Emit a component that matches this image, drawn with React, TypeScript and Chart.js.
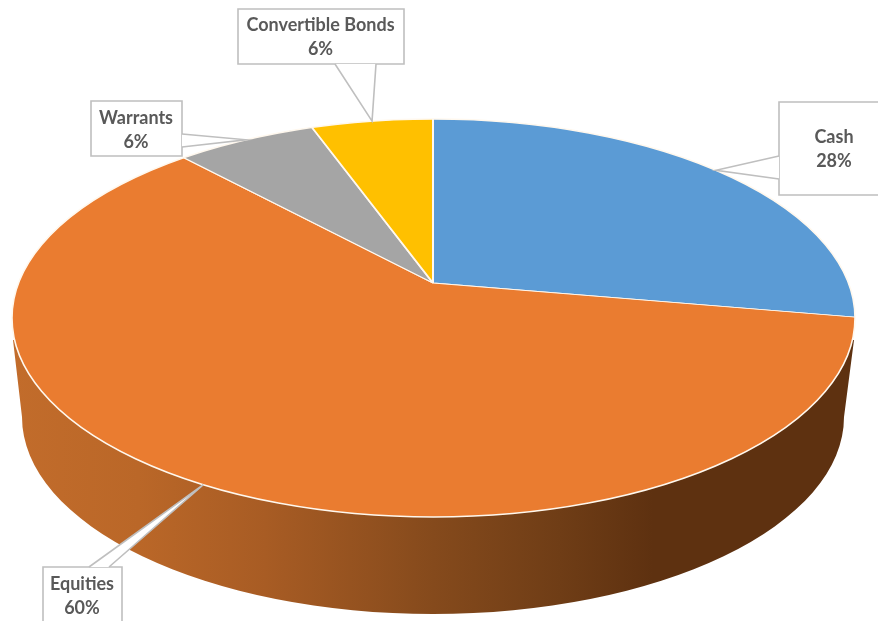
import React, { useEffect, useRef } from "react";
import { Chart, registerables } from "chart.js";

Chart.register(...registerables);

const categories = ["Cash", "Equities", "Warrants", "Convertible Bonds"];
const shares = [27.7, 60.3, 6.4, 5.6];
const sliceColors = ["#5B9BD5", "#EA7C30", "#A5A5A5", "#FFC000"];

// Projected disc geometry (the pie is seen in perspective)
const TOP = { cx: 433.5, cy: 318, rx: 421.5, ry: 199 };
const BASE = { cx: 433, cy: 417, rx: 411, ry: 197 };
const SQUASH = TOP.ry / TOP.rx;
const SIDE_STOPS: [number, string][] = [
  [0, "#C26C2B"],
  [0.15, "#BA6728"],
  [0.3, "#A85C24"],
  [0.5, "#854A1C"],
  [0.65, "#6F3D16"],
  [0.76, "#5E3110"],
  [1, "#5E3110"],
];

// Callout boxes, one per category
const BOXES = [
  { l: 779, t: 102, r: 900, b: 195, tx: 834, ty: 137, a: [779, 156], c: [779, 179] },
  { l: 43, t: 567, r: 122, b: 640, tx: 82, ty: 584, a: [89, 567], c: [109, 567] },
  { l: 91, t: 101, r: 182, b: 156, tx: 136, ty: 118, a: [182, 134], c: [182, 147] },
  { l: 238, t: 9, r: 404, b: 64, tx: 320.5, ty: 25, a: [335, 64], c: [376, 64] },
];

function rimPoint(x0: number, y0: number, dx: number, dy: number) {
  const px = (x0 - TOP.cx) / TOP.rx;
  const py = (y0 - TOP.cy) / TOP.ry;
  const qx = dx / TOP.rx;
  const qy = dy / TOP.ry;
  const A = qx * qx + qy * qy;
  const B = 2 * (px * qx + py * qy);
  const C = px * px + py * py - 1;
  const t = (-B + Math.sqrt(B * B - 4 * A * C)) / (2 * A);
  return [x0 + dx * t, y0 + dy * t];
}

const pie3d = {
  id: "pie3d",
  beforeDatasetsDraw(chart: any) {
    const { ctx } = chart;
    const arc = chart.getDatasetMeta(0).data[0];
    // side wall
    ctx.save();
    const g = ctx.createLinearGradient(TOP.cx - TOP.rx, 0, TOP.cx + TOP.rx, 0);
    SIDE_STOPS.forEach(([o, c]) => g.addColorStop(o, c));
    ctx.fillStyle = g;
    ctx.beginPath();
    ctx.moveTo(TOP.cx - TOP.rx + 1, 340);
    ctx.lineTo(BASE.cx - BASE.rx, BASE.cy);
    ctx.ellipse(BASE.cx, BASE.cy, BASE.rx, BASE.ry, 0, Math.PI, 0, true);
    ctx.lineTo(TOP.cx + TOP.rx - 1, 340);
    ctx.closePath();
    ctx.fill();
    ctx.restore();
    // top face: the slices, squashed and cut to the rim
    ctx.save();
    ctx.beginPath();
    ctx.ellipse(TOP.cx, TOP.cy, TOP.rx, TOP.ry, 0, 0, Math.PI * 2);
    ctx.clip();
    ctx.translate(arc.x, arc.y);
    ctx.scale(1, SQUASH);
    ctx.translate(-arc.x, -arc.y);
  },
  afterDatasetsDraw(chart: any) {
    const { ctx } = chart;
    ctx.restore();
    ctx.save();
    ctx.strokeStyle = "#FFF8EE";
    ctx.lineWidth = 1.6;
    ctx.beginPath();
    ctx.ellipse(TOP.cx, TOP.cy, TOP.rx, TOP.ry, 0, 0, Math.PI * 2);
    ctx.stroke();
    ctx.restore();
  },
  afterDraw(chart: any) {
    const { ctx } = chart;
    const meta = chart.getDatasetMeta(0);
    const total = shares.reduce((a, b) => a + b, 0);
    ctx.save();
    meta.data.forEach((el: any, i: number) => {
      const mid = (el.startAngle + el.endAngle) / 2;
      const tip = rimPoint(el.x, el.y, Math.cos(mid), Math.sin(mid) * SQUASH);
      const b = BOXES[i];
      ctx.fillStyle = "#FFFFFF";
      ctx.strokeStyle = "#BFBFBF";
      ctx.lineWidth = 1.6;
      ctx.beginPath();
      ctx.rect(b.l, b.t, b.r - b.l, b.b - b.t);
      ctx.fill();
      ctx.stroke();
      // leader wedge
      ctx.beginPath();
      ctx.moveTo(b.a[0], b.a[1]);
      ctx.lineTo(tip[0], tip[1]);
      ctx.lineTo(b.c[0], b.c[1]);
      ctx.closePath();
      ctx.fill();
      ctx.beginPath();
      ctx.moveTo(b.a[0], b.a[1]);
      ctx.lineTo(tip[0], tip[1]);
      ctx.lineTo(b.c[0], b.c[1]);
      ctx.stroke();
      ctx.fillStyle = "#595959";
      ctx.font = "bold 18px Lato";
      ctx.textAlign = "center";
      ctx.textBaseline = "middle";
      ctx.fillText(String(chart.data.labels[i]), b.tx, b.ty);
      ctx.fillText(Math.round((shares[i] / total) * 100) + "%", b.tx, b.ty + 24);
    });
    ctx.restore();
  },
};

export default function App() {
  const ref = useRef<HTMLCanvasElement>(null);
  useEffect(() => {
    const chart = new Chart(ref.current!, {
      type: "pie",
      data: {
        labels: categories,
        datasets: [
          {
            data: shares,
            backgroundColor: sliceColors,
            borderColor: "#FFF8EE",
            borderWidth: 2,
            clip: false,
          } as any,
        ],
      },
      options: {
        animation: false,
        responsive: false,
        devicePixelRatio: 1,
        radius: 600,
        layout: { padding: { left: 0, top: 0, right: 12, bottom: 55 } },
        plugins: { legend: { display: false }, tooltip: { enabled: false } },
      } as any,
      plugins: [pie3d],
    });
    return () => chart.destroy();
  }, []);
  return (
    <canvas
      ref={ref}
      width={878}
      height={621}
      style={{ position: "fixed", left: 0, top: 0, width: 878, height: 621, display: "block" }}
    />
  );
}
